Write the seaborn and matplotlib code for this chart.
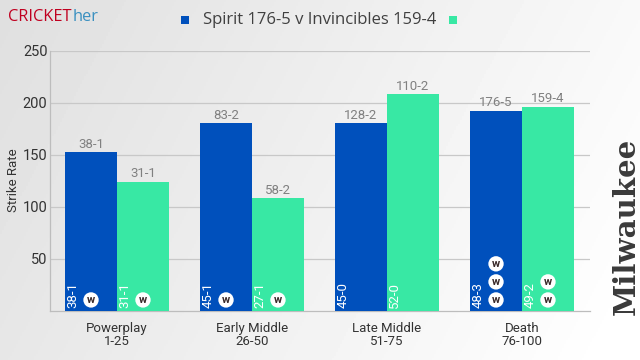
import numpy as np
import pandas as pd
import matplotlib
matplotlib.use("Agg")
import matplotlib.pyplot as plt
import seaborn as sns

categories = ["Powerplay\n1-25", "Early Middle\n26-50", "Late Middle\n51-75", "Death\n76-100"]
series_names = ["Spirit 176-5 v Invincibles 159-4", "Invincibles"]
spirit_sr = [152, 180, 180, 192]
invincibles_sr = [124, 108, 208, 196]
spirit_top = ["38-1", "83-2", "128-2", "176-5"]
invincibles_top = ["31-1", "58-2", "110-2", "159-4"]
spirit_inner = ["38-1", "45-1", "45-0", "48-3"]
invincibles_inner = ["31-1", "27-1", "52-0", "49-2"]
spirit_wkts = [1, 1, 0, 3]
invincibles_wkts = [1, 1, 0, 2]
colors = ["#0050BC", "#38E8A4"]
W, H = 640, 360

sns.set_theme(style="white")
plt.rcParams["font.family"] = ["Roboto", "DejaVu Sans"]

fig = plt.figure(figsize=(W / 100, H / 100), dpi=100)
bg = fig.add_axes([0, 0, 1, 1], zorder=0)
xx, yy = np.meshgrid(np.linspace(0, 1, 320), np.linspace(0, 1, 180))
grad = np.clip(0.875 + 0.1 * xx + 0.03 * yy, 0, 1)
bg.imshow(grad, cmap="gray", vmin=0, vmax=1, aspect="auto", extent=[0, 1, 0, 1], origin="upper")
bg.axis("off")

ax = fig.add_axes([49.5 / W, 1 - 310.5 / H, 540 / W, 260 / H], zorder=1)
ax.patch.set_alpha(0)

df = pd.DataFrame({
    "phase": categories * 2,
    "team": [series_names[0]] * 4 + [series_names[1]] * 4,
    "sr": spirit_sr + invincibles_sr,
})
sns.barplot(data=df, x="phase", y="sr", hue="team", palette=colors, width=0.77, gap=0,
            saturation=1, legend=False, ax=ax, zorder=3, linewidth=0, edgecolor="none")
ax.set_xlim(-0.5, 3.5)
ax.set_ylim(0, 250)
ax.set_yticks([50, 100, 150, 200, 250])
ax.set_xlabel("")
ax.set_ylabel("Strike Rate", fontsize=9.5, color="#333333")
ax.yaxis.set_label_coords((20 - 49.5) / 540, 0.5)
ax.grid(axis="y", color="#C8C8C8", lw=0.9, zorder=0)
ax.set_axisbelow(True)
for s in ["top", "right"]:
    ax.spines[s].set_visible(False)
for s in ["left", "bottom"]:
    ax.spines[s].set_color("#BDBDBD")
    ax.spines[s].set_linewidth(0.9)
ax.tick_params(axis="y", length=0, labelsize=10.5, labelcolor="#333333", pad=1.5)
ax.tick_params(axis="x", length=0, labelsize=9.5, labelcolor="#333333", pad=8)
for lab in ax.get_xticklabels():
    lab.set_linespacing(1.05)

bw = 0.77 / 2
for i in range(4):
    for off, sr, top, inner, wk in [
        (-bw / 2, spirit_sr[i], spirit_top[i], spirit_inner[i], spirit_wkts[i]),
        (bw / 2, invincibles_sr[i], invincibles_top[i], invincibles_inner[i], invincibles_wkts[i]),
    ]:
        x = i + off
        ax.annotate(top, (x, sr), xytext=(0, 1), textcoords="offset points", ha="center", va="bottom",
                    fontsize=9.5, color="#808080", zorder=5)
        ax.annotate(inner, (x - bw / 2, 0), xytext=(1, 2), textcoords="offset points", ha="left", va="bottom",
                    rotation=90, fontsize=9.5, color="white", zorder=5)
        for k in range(wk):
            ax.annotate("w", (x, 0), xytext=(0, 7.6 + k * 13), textcoords="offset points",
                        ha="center", va="center", fontsize=8, fontweight="bold", color="#3A2A2A", zorder=6,
                        bbox=dict(boxstyle="circle,pad=0.24", fc="white", ec="none"))

fig.text(8 / W, 1 - 17 / H, "CRICKET", fontsize=11.8, color="#C00020", family="Open Sans", va="center", ha="left")
fig.text(73 / W, 1 - 17 / H, "her", fontsize=11.8, color="#3A90C0", family="Open Sans", va="center", ha="left")

fig.text(203 / W, 1 - 20 / H, series_names[0], fontsize=12, color="#404040", family="Open Sans", va="center", ha="left")
fig.patches.extend([
    plt.Rectangle((181 / W, 1 - 24 / H), 8 / W, 8 / H, transform=fig.transFigure, fc=colors[0], ec="none", zorder=3),
    plt.Rectangle((449 / W, 1 - 24 / H), 8 / W, 8 / H, transform=fig.transFigure, fc=colors[1], ec="none", zorder=3),
])

fig.text(626 / W, 1 - 226 / H, "Milwaukee", rotation=90, fontsize=21, fontweight="bold", family="DejaVu Serif",
         color="#3A3A3A", va="center", ha="center")

fig.savefig("out.png", dpi=100)
